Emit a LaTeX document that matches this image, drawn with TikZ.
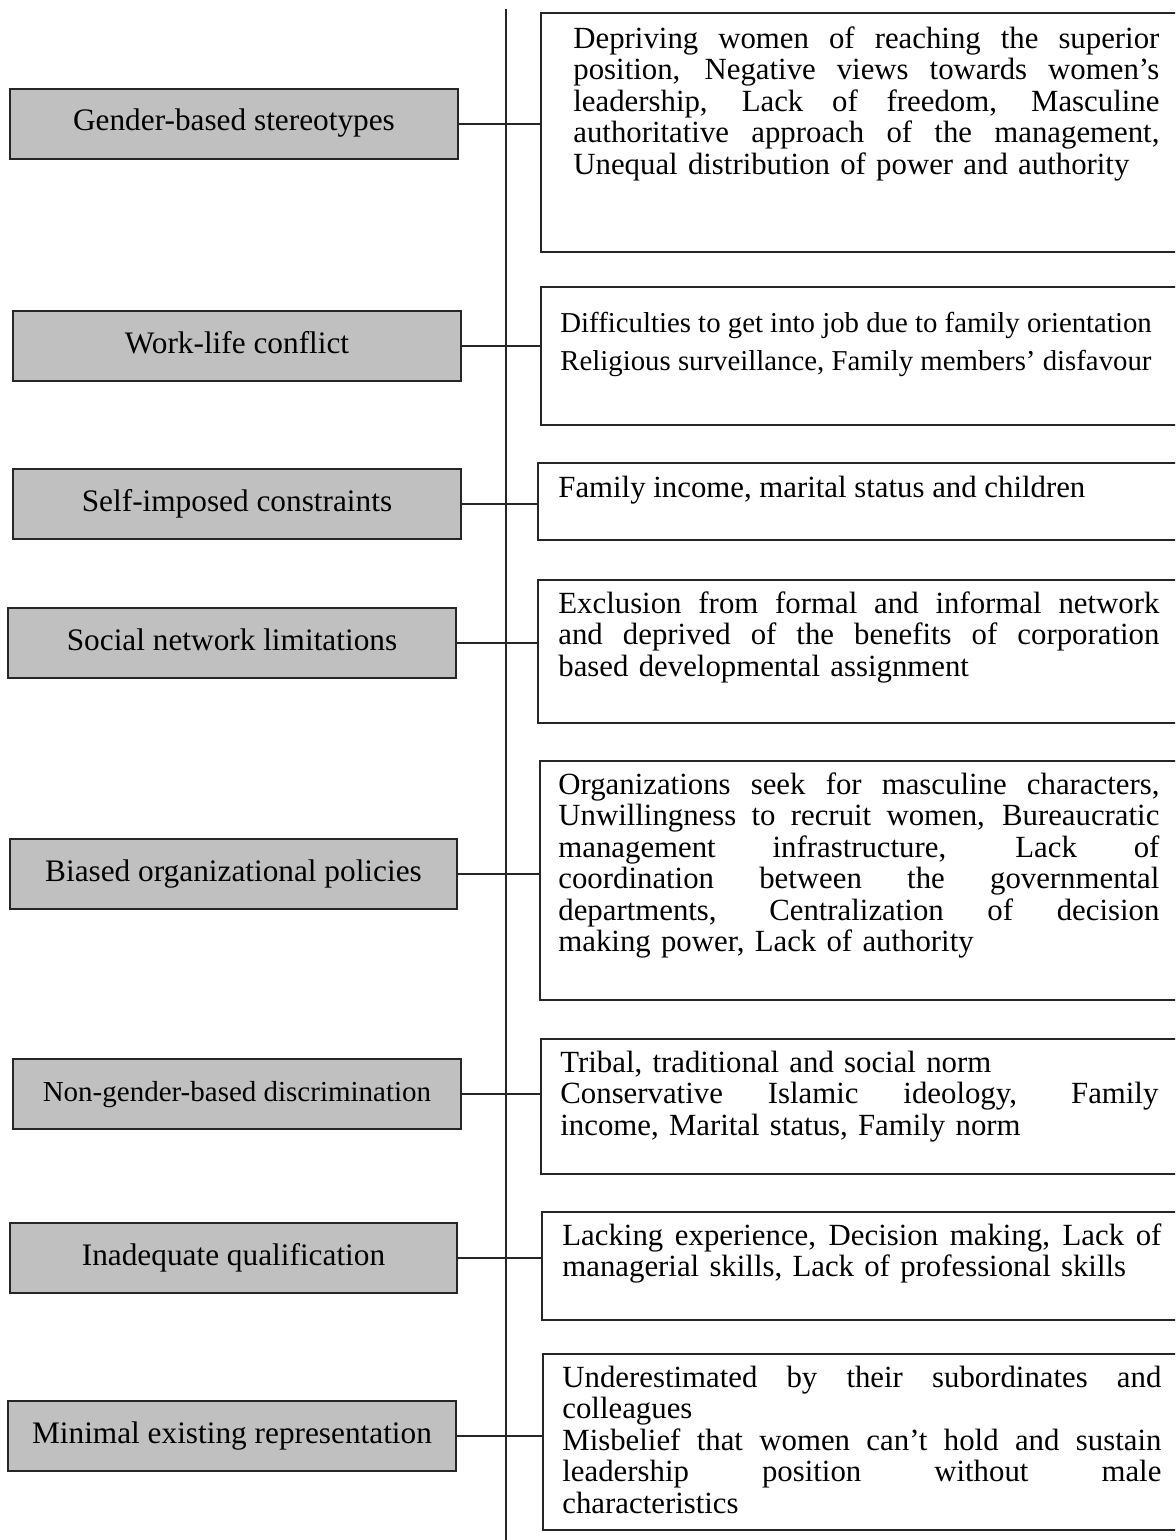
\documentclass[tikz,border=0pt]{standalone}
\usepackage{fontspec}
\setmainfont{Liberation Serif}
\definecolor{lgray}{HTML}{C0C0C0}
\definecolor{edge}{HTML}{262626}
\newcommand\ftop{\noindent\rule{0pt}{0.8em}}
\newdimen\jlw
\newcommand\jl[1]{\hbox to \jlw{\spaceskip=\fontdimen2\font plus 1fil\relax\xspaceskip=\spaceskip #1}}
\tikzset{
  lbox/.style={draw=edge, line width=0.8pt, fill=lgray, inner sep=0pt,
    minimum width=224pt, minimum height=35pt, text height=0.7em, text depth=0pt,
    font=\fontsize{15.65}{18}\selectfont},
  rbox/.style={draw=edge, line width=0.8pt, inner sep=0pt, anchor=north west,
    minimum width=325pt},
  rtext/.style={anchor=north west, inner sep=0pt, align=left,
    font=\fontsize{15.4}{15.75}\selectfont},
  conn/.style={draw=edge, line width=0.7pt}
}
\begin{document}
\begin{tikzpicture}[x=0.5pt, y=-0.5pt]
\useasboundingbox (0,0) rectangle (1175,1540);
\clip (0,0) rectangle (1175,1540);

% vertical spine
\coordinate (vt) at (506,9);
\coordinate (vb) at (506,1540);
\draw[conn] (vt) -- (vb);

% left boxes
\node[lbox] (l1) at (234,124) {Gender-based stereotypes};
\node[lbox] (l2) at (237,346) {Work-life conflict};
\node[lbox] (l3) at (237,504) {Self-imposed constraints};
\node[lbox] (l4) at (232,643) {Social network limitations};
\node[lbox, minimum width=223.5pt] (l5) at (233.5,874) {Biased organizational policies};
\node[lbox, font=\fontsize{14.5}{17}\selectfont] (l6) at (237,1094) {Non-gender-based discrimination};
\node[lbox, minimum width=223.5pt] (l7) at (233.5,1258) {Inadequate qualification};
\node[lbox] (l8) at (232,1436) {Minimal existing representation};

% right boxes
\node[rbox, minimum height=119.5pt] (r1) at (540,12) {};
\node[rbox, minimum height=69pt] (r2) at (540,286) {};
\node[rbox, minimum height=38.5pt] (r3) at (537,462) {};
\node[rbox, minimum height=71.5pt] (r4) at (537,579) {};
\node[rbox, minimum height=119.5pt] (r5) at (539,760) {};
\node[rbox, minimum height=67.5pt] (r6) at (540,1038) {};
\node[rbox, minimum height=54pt] (r7) at (541,1211) {};
\node[rbox, minimum height=88pt] (r8) at (542,1353) {};

% texts
\node[rtext, text width=293pt] (t1) at (573,23.4) {\jlw=293pt\ftop\jl{Depriving women of reaching the superior}
\jl{position, Negative views towards women’s}
\jl{leadership, Lack of freedom, Masculine}
\jl{authoritative approach of the management,}
Unequal distribution of power and authority};

\node[rtext, font=\fontsize{14.4}{19}\selectfont] (t2) at (560,309.1) {\ftop Difficulties to get into job due to family orientation\\
Religious surveillance, Family members’ disfavour};

\node[rtext] (t3) at (558,472.4) {\ftop Family income, marital status and children};

\node[rtext, text width=300.5pt] (t4) at (558,588.4) {\jlw=300.5pt\ftop\jl{Exclusion from formal and informal network}
\jl{and deprived of the benefits of corporation}
based developmental assignment};

\node[rtext, text width=300.5pt] (t5) at (558,769.4) {\jlw=300.5pt\ftop\jl{Organizations seek for masculine characters,}
\jl{Unwillingness to recruit women, Bureaucratic}
\jl{management infrastructure, Lack of}
\jl{coordination between the governmental}
\jl{departments, Centralization of decision}
making power, Lack of authority};

\node[rtext, text width=299pt] (t6) at (560,1047.4) {\jlw=299pt\ftop Tribal, traditional and social norm\\
\jl{Conservative Islamic ideology, Family}
income, Marital status, Family norm};

\node[rtext, text width=299.5pt] (t7) at (562,1220.4) {\jlw=299.5pt\ftop\jl{Lacking experience, Decision making, Lack of}
managerial skills, Lack of professional skills};

\node[rtext, text width=299.5pt] (t8) at (562,1362.4) {\jlw=299.5pt\ftop\jl{Underestimated by their subordinates and}
colleagues\\
\jl{Misbelief that women can’t hold and sustain}
\jl{leadership position without male}
characteristics};

% connectors
\foreach \i in {1,...,8}{
  \draw[conn] (l\i.east) -- (l\i.east -| r\i.west);
}
\end{tikzpicture}
\end{document}
